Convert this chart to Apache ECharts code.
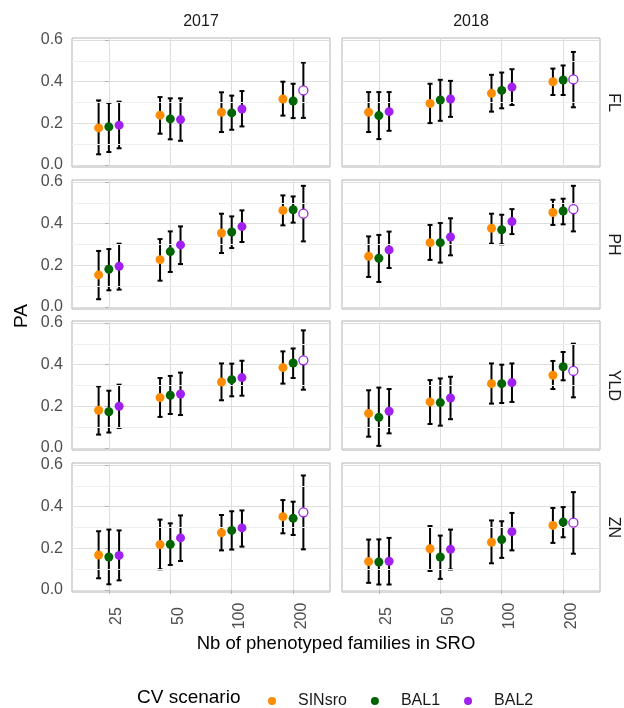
<!DOCTYPE html>
<html><head><meta charset="utf-8">
<script src="https://cdn.jsdelivr.net/npm/echarts@6/dist/echarts.min.js"></script>
<style>html,body{margin:0;padding:0;background:#fff}#c{width:624px;height:708px}</style>
</head><body><div id="c"></div>
<script>
const categories = ['25', '50', '100', '200'];
const scenarios = ['SINsro', 'BAL1', 'BAL2'];
const years = ['2017', '2018'];
const traits = ['FL', 'PH', 'YLD', 'ZN'];
const yTicks = [0, 0.2, 0.4, 0.6];
const yMinorTicks = [0.1, 0.3, 0.5];
const openPointScenario = 'BAL2';
const openPointCategory = '200';

// rows: SINsro, BAL1, BAL2 ; columns: 25, 50, 100, 200
const FL_2017_PA = [[0.178,0.239,0.253,0.317],[0.183,0.221,0.250,0.307],[0.191,0.218,0.269,0.358]];
const FL_2017_LO = [[0.051,0.150,0.158,0.237],[0.062,0.123,0.169,0.225],[0.080,0.116,0.185,0.226]];
const FL_2017_HI = [[0.310,0.326,0.349,0.400],[0.298,0.320,0.333,0.390],[0.304,0.320,0.355,0.492]];

const FL_2018_PA = [[0.253,0.295,0.344,0.400],[0.237,0.312,0.358,0.408],[0.256,0.317,0.374,0.411]];
const FL_2018_LO = [[0.158,0.201,0.256,0.336],[0.124,0.212,0.272,0.336],[0.164,0.231,0.288,0.277]];
const FL_2018_HI = [[0.350,0.390,0.433,0.463],[0.350,0.409,0.444,0.478],[0.350,0.404,0.460,0.543]];

const PH_2017_PA = [[0.154,0.227,0.355,0.464],[0.181,0.266,0.360,0.467],[0.195,0.298,0.386,0.448]];
const PH_2017_LO = [[0.037,0.126,0.259,0.392],[0.080,0.168,0.283,0.405],[0.083,0.206,0.312,0.315]];
const PH_2017_HI = [[0.269,0.326,0.448,0.536],[0.278,0.363,0.435,0.531],[0.304,0.387,0.464,0.582]];

const PH_2018_PA = [[0.243,0.309,0.378,0.454],[0.234,0.309,0.371,0.461],[0.274,0.336,0.410,0.470]];
const PH_2018_LO = [[0.144,0.226,0.304,0.394],[0.120,0.213,0.301,0.397],[0.187,0.248,0.350,0.363]];
const PH_2018_HI = [[0.339,0.394,0.448,0.515],[0.346,0.403,0.443,0.520],[0.362,0.426,0.470,0.582]];

const YLD_2017_PA = [[0.181,0.242,0.317,0.386],[0.174,0.253,0.328,0.408],[0.200,0.259,0.338,0.421]];
const YLD_2017_LO = [[0.064,0.149,0.229,0.309],[0.074,0.163,0.248,0.336],[0.096,0.158,0.251,0.280]];
const YLD_2017_HI = [[0.296,0.336,0.406,0.464],[0.275,0.346,0.405,0.478],[0.304,0.362,0.419,0.565]];

const YLD_2018_PA = [[0.166,0.221,0.309,0.349],[0.147,0.218,0.309,0.390],[0.176,0.240,0.314,0.370]];
const YLD_2018_LO = [[0.054,0.115,0.213,0.283],[0.010,0.107,0.216,0.325],[0.070,0.138,0.221,0.243]];
const YLD_2018_HI = [[0.277,0.326,0.406,0.418],[0.290,0.334,0.400,0.461],[0.283,0.342,0.406,0.501]];

const ZN_2017_PA = [[0.168,0.218,0.275,0.352],[0.158,0.219,0.286,0.344],[0.166,0.250,0.298,0.373]];
const ZN_2017_LO = [[0.056,0.099,0.190,0.272],[0.027,0.120,0.194,0.264],[0.046,0.139,0.208,0.195]];
const ZN_2017_HI = [[0.282,0.338,0.360,0.432],[0.290,0.320,0.378,0.424],[0.286,0.358,0.382,0.550]];

const ZN_2018_PA = [[0.136,0.198,0.229,0.310],[0.134,0.158,0.242,0.326],[0.138,0.195,0.280,0.323]];
const ZN_2018_LO = [[0.034,0.091,0.128,0.226],[0.026,0.053,0.154,0.253],[0.026,0.098,0.190,0.174]];
const ZN_2018_HI = [[0.242,0.307,0.334,0.394],[0.243,0.261,0.330,0.398],[0.250,0.290,0.370,0.470]];

const panels = {
  FL_2017: [FL_2017_PA, FL_2017_LO, FL_2017_HI], FL_2018: [FL_2018_PA, FL_2018_LO, FL_2018_HI],
  PH_2017: [PH_2017_PA, PH_2017_LO, PH_2017_HI], PH_2018: [PH_2018_PA, PH_2018_LO, PH_2018_HI],
  YLD_2017: [YLD_2017_PA, YLD_2017_LO, YLD_2017_HI], YLD_2018: [YLD_2018_PA, YLD_2018_LO, YLD_2018_HI],
  ZN_2017: [ZN_2017_PA, ZN_2017_LO, ZN_2017_HI], ZN_2018: [ZN_2018_PA, ZN_2018_LO, ZN_2018_HI]
};

// ---- style / layout ----
const FONT = 'Liberation Sans, Arial, sans-serif';
const colors = { SINsro: '#FF8C00', BAL1: '#006400', BAL2: '#A020F0' };
const colLefts = [72, 342];
const rowTops = [38, 180, 321, 463];
const panelW = 258, panelH = 129;
const dodgeWidth = 0.5;
const offsets = scenarios.map((s, k) => (k - (scenarios.length - 1) / 2) * dodgeWidth / scenarios.length);
const catPos = categories.map((c, i) => i);

const grids = [], xAxes = [], yAxes = [], series = [], graphics = [];

traits.forEach((trait, r) => {
  years.forEach((year, c) => {
    const idx = r * 2 + c;
    const [pa, lo, hi] = panels[trait + '_' + year];
    grids.push({ left: colLefts[c], top: rowTops[r], width: panelW, height: panelH,
      show: true, borderColor: '#b3b3b3', borderWidth: 1, backgroundColor: '#fff' });
    xAxes.push({ gridIndex: idx, type: 'value', min: -0.6, max: categories.length - 0.4,
      axisLine: { show: false },
      axisTick: { show: r === traits.length - 1, customValues: catPos, length: 4, lineStyle: { color: '#b3b3b3' } },
      axisLabel: { show: r === traits.length - 1, customValues: catPos,
        formatter: v => categories[Math.round(v)] || '', rotate: 90, align: 'center', verticalAlign: 'top',
        margin: 24, fontSize: 16, color: '#4d4d4d', fontFamily: FONT },
      splitLine: { show: true, lineStyle: { color: '#dedede', width: 1 } } });
    yAxes.push({ gridIndex: idx, type: 'value', min: -0.01, max: 0.61,
      axisLine: { show: false },
      axisTick: { show: c === 0, customValues: yTicks, length: 4, lineStyle: { color: '#b3b3b3' } },
      axisLabel: { show: c === 0, customValues: yTicks, formatter: v => v.toFixed(1),
        margin: 9, fontSize: 16, color: '#4d4d4d', fontFamily: FONT },
      splitLine: { show: true, lineStyle: { color: '#dedede', width: 1 } } });

    // minor horizontal gridlines
    series.push({ type: 'line', xAxisIndex: idx, yAxisIndex: idx, data: [], z: 1, silent: true,
      markLine: { silent: true, symbol: ['none', 'none'], label: { show: false }, animation: false,
        lineStyle: { color: '#eeeeee', width: 1, type: 'solid' },
        data: yMinorTicks.map(v => ({ yAxis: v })) } });

    // error bars
    const ebData = [];
    scenarios.forEach((s, k) => categories.forEach((cat, i) => {
      ebData.push([catPos[i] + offsets[k], lo[k][i], hi[k][i]]);
    }));
    series.push({ type: 'custom', xAxisIndex: idx, yAxisIndex: idx, z: 2, silent: true,
      encode: { x: 0, y: [1, 2] }, data: ebData,
      renderItem: (params, api) => {
        const x = api.value(0);
        const p1 = api.coord([x, api.value(1)]), p2 = api.coord([x, api.value(2)]);
        const cw = 2.5;
        const style = { stroke: '#000', lineWidth: 2 };
        return { type: 'group', children: [
          { type: 'line', shape: { x1: p1[0], y1: p1[1], x2: p2[0], y2: p2[1] }, style },
          { type: 'line', shape: { x1: p1[0] - cw, y1: p1[1], x2: p1[0] + cw, y2: p1[1] }, style },
          { type: 'line', shape: { x1: p2[0] - cw, y1: p2[1], x2: p2[0] + cw, y2: p2[1] }, style }
        ] };
      } });

    // points
    scenarios.forEach((s, k) => {
      series.push({ name: s, type: 'scatter', xAxisIndex: idx, yAxisIndex: idx, z: 10, silent: true,
        symbol: 'circle', symbolSize: 9, itemStyle: { color: colors[s], opacity: 1 },
        data: categories.map((cat, i) => {
          const d = { value: [catPos[i] + offsets[k], pa[k][i]] };
          if (s === openPointScenario && cat === openPointCategory) {
            d.itemStyle = { color: '#ffffff', borderColor: colors[s], borderWidth: 1.3 };
          }
          return d;
        }) });
    });

    // right strip label
    if (c === years.length - 1) {
      graphics.push({ type: 'text', x: 613, y: rowTops[r] + panelH / 2, rotation: -Math.PI / 2,
        style: { text: trait, fontSize: 16, fill: '#1a1a1a', fontFamily: FONT, align: 'center', verticalAlign: 'middle' } });
    }
  });
});

years.forEach((year, c) => {
  graphics.push({ type: 'text', x: colLefts[c] + panelW / 2, y: 22,
    style: { text: year, fontSize: 16, fill: '#1a1a1a', fontFamily: FONT, align: 'center', verticalAlign: 'middle' } });
});
graphics.push({ type: 'text', x: 22, y: 316, rotation: Math.PI / 2,
  style: { text: 'PA', fontSize: 19, fill: '#000', fontFamily: FONT, align: 'center', verticalAlign: 'middle' } });
graphics.push({ type: 'text', x: 336, y: 644,
  style: { text: 'Nb of phenotyped families in SRO', fontSize: 18.5, fill: '#000', fontFamily: FONT, align: 'center', verticalAlign: 'middle' } });
graphics.push({ type: 'text', x: 137, y: 698,
  style: { text: 'CV scenario', fontSize: 19, fill: '#000', fontFamily: FONT, align: 'left', verticalAlign: 'middle' } });

const chart = echarts.init(document.getElementById('c'), null, { renderer: 'canvas' });
chart.setOption({
  animation: false,
  backgroundColor: '#fff',
  grid: grids, xAxis: xAxes, yAxis: yAxes, series,
  legend: { data: scenarios, left: 268, top: 693, orient: 'horizontal', icon: 'circle',
    itemWidth: 8, itemHeight: 8, itemGap: 24, padding: 0, selectedMode: false,
    textStyle: { fontSize: 16, color: '#1a1a1a', fontFamily: FONT, padding: [0, 0, 0, 17] } },
  graphic: graphics
});
</script>
</body></html>
